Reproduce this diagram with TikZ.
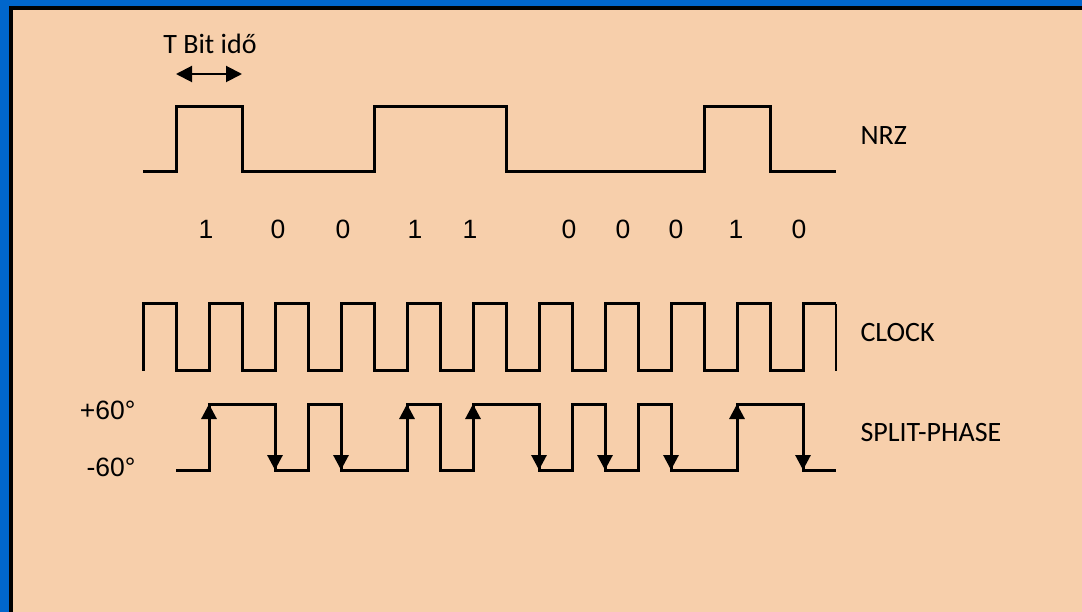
\documentclass[tikz,border=0pt]{standalone}
\usepackage{fontspec}
\setmainfont{Carlito}
\newfontfamily\digitfont{Liberation Sans}
\usetikzlibrary{arrows.meta,positioning}
\definecolor{frameblue}{RGB}{0,102,204}
\definecolor{peach}{RGB}{247,207,171}

\begin{document}
\begin{tikzpicture}[
  x=1pt, y=-1pt,
  wave/.style={line width=3pt},
  tip/.style={-{Triangle[length=15pt,width=15pt]}},
  sig/.style={anchor=west, font=\fontsize{28}{32}\selectfont},
  bit/.style={font=\digitfont\fontsize{26.5}{30}\selectfont}
]
  \useasboundingbox (0,0) rectangle (1082,612);
  % frame
  \fill[frameblue] (0,0) rectangle (1082,612);
  \fill[black] (9,6) rectangle (1095,625);
  \fill[peach] (13,10) rectangle (1095,625);

  % bit time
  \node[font=\fontsize{28}{32}\selectfont] (tbit) at (210,44) {T Bit idő};
  \coordinate (ta) at (176,74);
  \coordinate (tb) at (242,74);
  \draw[line width=2pt, {Triangle[length=16pt,width=16pt]}-{Triangle[length=16pt,width=16pt]}] (ta) -- (tb);

  % NRZ
  \draw[wave] (143,172) -- (176,172) -- (176,107) -- (242,107) -- (242,172) -- (374,172)
    -- (374,107) -- (506,107) -- (506,172) -- (704,172) -- (704,107) -- (770,107)
    -- (770,172) -- (836,172);
  \node[sig] (nrz) at (857,136) {NRZ};

  % bits
  \foreach \b/\x [count=\i] in {1/206,0/278,0/343,1/415,1/470,0/569,0/623,0/676,1/736,0/799}
    \node[bit] (bit\i) at (\x,229) {\b};

  % clock
  \draw[wave] (143,371) -- (143,304) -- (176,304)
    \foreach \k in {0,...,9} { -- ({176+66*\k},371) -- ({209+66*\k},371)
      -- ({209+66*\k},304) -- ({242+66*\k},304) };
  \draw[line width=1.5pt] (836,304) -- (836,371);
  \node[sig] (clock) at (857,333) {CLOCK};

  % split-phase
  \draw[wave] (176,470) -- (209,470) -- (209,404) -- (275,404) -- (275,470) -- (308,470)
    -- (308,404) -- (341,404) -- (341,470) -- (407,470) -- (407,404) -- (440,404)
    -- (440,470) -- (473,470) -- (473,404) -- (539,404) -- (539,470) -- (572,470)
    -- (572,404) -- (605,404) -- (605,470) -- (638,470) -- (638,404) -- (671,404)
    -- (671,470) -- (737,470) -- (737,404) -- (803,404) -- (803,470) -- (836,470);
  \foreach \x in {209,407,473,737}
    \draw[wave,tip] (\x,470) -- (\x,404);
  \foreach \x in {275,341,539,605,671,803}
    \draw[wave,tip] (\x,404) -- (\x,470);
  \node[sig] (split) at (857,433) {SPLIT-PHASE};
  \node[bit, anchor=east] (plus) at (139,410) {+60°};
  \node[bit, anchor=east] (minus) at (139,467) {-60°};
\end{tikzpicture}
\end{document}
